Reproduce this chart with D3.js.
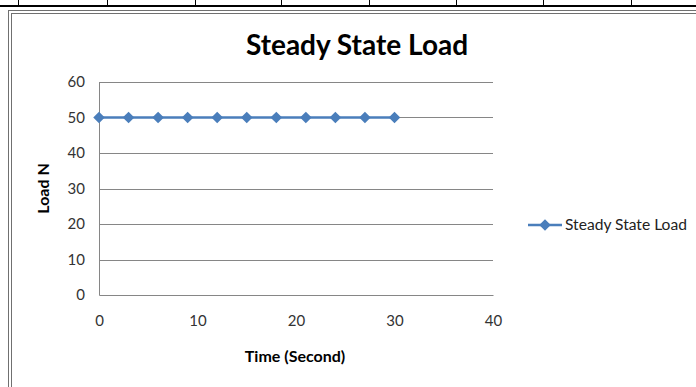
<!DOCTYPE html>
<html>
<head>
<meta charset="utf-8">
<script src="https://cdn.jsdelivr.net/npm/d3@7"></script>
<style>
  body { margin: 0; background: #fff; }
  text { font-family: Lato, "Open Sans", sans-serif; }
</style>
</head>
<body>
<div id="chart"></div>
<script>
// chart values
const times = [0, 3, 6, 9, 12, 15, 18, 21, 24, 27, 30];
const loads = [50, 50, 50, 50, 50, 50, 50, 50, 50, 50, 50];
const xTicks = [0, 10, 20, 30, 40];
const yTicks = [0, 10, 20, 30, 40, 50, 60];
const seriesName = 'Steady State Load';
const tableCols = [18, 107, 195, 281, 369, 456, 543, 631];

const W = 696, H = 387;
const margin = { top: 82, left: 99, right: 203, bottom: 92 };
const width = W - margin.left - margin.right;
const height = H - margin.top - margin.bottom;
const blue = '#4a7ebb';

const svg = d3.select('#chart').append('svg')
  .attr('width', W)
  .attr('height', H);

// page table edge above the chart
svg.selectAll('.col')
  .data(tableCols)
  .enter()
  .append('line')
  .attr('x1', (d) => d + 0.5).attr('x2', (d) => d + 0.5)
  .attr('y1', 0).attr('y2', 6)
  .attr('stroke', '#000').attr('stroke-width', 1);
svg.append('line')
  .attr('x1', 0).attr('x2', W).attr('y1', 6).attr('y2', 6)
  .attr('stroke', '#000').attr('stroke-width', 2);

// chart frame (double line)
svg.append('rect')
  .attr('x', 8.5).attr('y', 10.5).attr('width', W + 20).attr('height', H)
  .attr('fill', 'none').attr('stroke', '#707070').attr('stroke-width', 1);
svg.append('rect')
  .attr('x', 11.5).attr('y', 13.5).attr('width', W + 20).attr('height', H)
  .attr('fill', 'none').attr('stroke', '#707070').attr('stroke-width', 1);

const g = svg.append('g')
  .attr('transform', `translate(${margin.left}, ${margin.top})`);

const x = d3.scaleLinear().domain([0, 40]).range([0, width]);
const y = d3.scaleLinear().domain([0, 60]).range([height, 0]);

// gridlines
g.selectAll('.grid')
  .data(yTicks.filter((d) => d > 0))
  .enter()
  .append('line')
  .attr('x1', 0).attr('x2', width)
  .attr('y1', (d) => Math.round(y(d)) + 0.5)
  .attr('y2', (d) => Math.round(y(d)) + 0.5)
  .attr('stroke', '#868686');

// axes
const yAxis = g.append('g')
  .call(d3.axisLeft(y).tickValues(yTicks).tickSize(0).tickPadding(14));
const xAxis = g.append('g')
  .attr('transform', `translate(0, ${height})`)
  .call(d3.axisBottom(x).tickValues(xTicks).tickSize(0).tickPadding(20));

[xAxis, yAxis].forEach((a) => {
  a.select('.domain').attr('stroke', '#868686');
  a.selectAll('text')
    .attr('fill', '#333')
    .style('font-size', '15px');
});

// series
const line = d3.line()
  .x((d, i) => x(times[i]))
  .y((d) => y(d));

g.append('path')
  .datum(loads)
  .attr('fill', 'none')
  .attr('stroke', blue)
  .attr('stroke-width', 2.5)
  .attr('d', line);

const diamond = d3.symbol().type(d3.symbolDiamond2).size(85);

g.selectAll('.dot')
  .data(loads)
  .enter()
  .append('path')
  .attr('d', diamond)
  .attr('transform', (d, i) => `translate(${x(times[i])}, ${y(d)})`)
  .attr('fill', blue);

// titles
svg.append('text')
  .attr('x', 357).attr('y', 55)
  .attr('text-anchor', 'middle')
  .style('font-size', '28px').style('font-weight', 'bold')
  .text(seriesName);

svg.append('text')
  .attr('x', margin.left + width / 2 - 1).attr('y', 362)
  .attr('text-anchor', 'middle')
  .style('font-size', '16px').style('font-weight', 'bold')
  .text('Time (Second)');

svg.append('text')
  .attr('transform', `translate(49, ${margin.top + height / 2}) rotate(-90)`)
  .attr('text-anchor', 'middle')
  .style('font-size', '16px').style('font-weight', 'bold')
  .text('Load N');

// legend
const lg = svg.append('g').attr('transform', 'translate(528, 225)');
lg.append('line')
  .attr('x1', 0).attr('x2', 34).attr('y1', 0).attr('y2', 0)
  .attr('stroke', blue).attr('stroke-width', 2.5);
lg.append('path')
  .attr('d', diamond)
  .attr('transform', 'translate(17, 0)')
  .attr('fill', blue);
lg.append('text')
  .attr('x', 37).attr('y', 5)
  .attr('fill', '#222')
  .style('font-size', '15.6px')
  .text(seriesName);
</script>
</body>
</html>
